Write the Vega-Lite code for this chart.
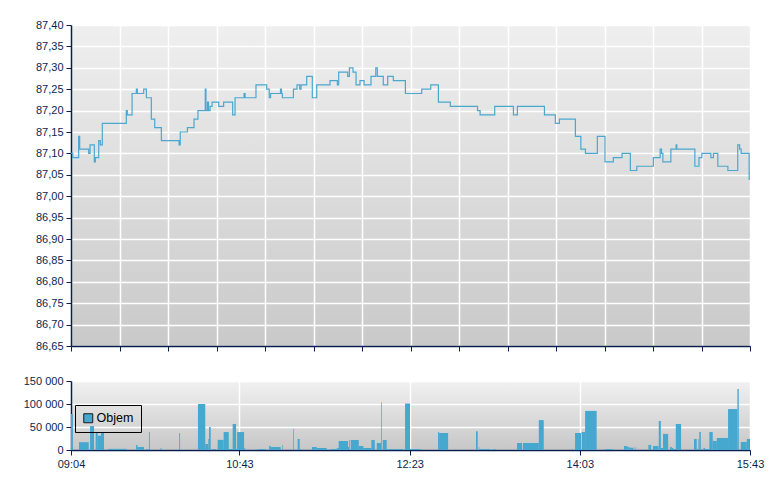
{
  "$schema": "https://vega.github.io/schema/vega-lite/v6.json",
  "background": "#ffffff",
  "padding": {"left": 23, "top": 19, "right": 10, "bottom": 5},
  "spacing": 23,
  "datasets": {
    "price": [
      {"t": 544, "p": 87.10}, {"t": 545.0, "p": 87.09}, {"t": 548.5, "p": 87.14}, {"t": 549.1, "p": 87.11},
      {"t": 554.4, "p": 87.10}, {"t": 555.2, "p": 87.12}, {"t": 557.7, "p": 87.08}, {"t": 558.3, "p": 87.09},
      {"t": 560.3, "p": 87.13}, {"t": 561.2, "p": 87.12}, {"t": 562.4, "p": 87.17}, {"t": 576.5, "p": 87.20},
      {"t": 577.1, "p": 87.19}, {"t": 579.9, "p": 87.24}, {"t": 582.4, "p": 87.25}, {"t": 583.0, "p": 87.24},
      {"t": 586.7, "p": 87.25}, {"t": 588.3, "p": 87.23}, {"t": 591.2, "p": 87.18}, {"t": 593.2, "p": 87.16},
      {"t": 597.1, "p": 87.13}, {"t": 607.5, "p": 87.12}, {"t": 608.2, "p": 87.15}, {"t": 612.4, "p": 87.16},
      {"t": 616.3, "p": 87.18}, {"t": 618.6, "p": 87.20}, {"t": 622.9, "p": 87.25}, {"t": 623.3, "p": 87.20},
      {"t": 624.2, "p": 87.22}, {"t": 624.8, "p": 87.20}, {"t": 625.7, "p": 87.21}, {"t": 626.9, "p": 87.22},
      {"t": 630.8, "p": 87.21}, {"t": 633.7, "p": 87.22}, {"t": 639.0, "p": 87.19}, {"t": 640.4, "p": 87.23},
      {"t": 645.7, "p": 87.24}, {"t": 646.3, "p": 87.23}, {"t": 652.7, "p": 87.26}, {"t": 659.0, "p": 87.25},
      {"t": 660.5, "p": 87.23}, {"t": 661.3, "p": 87.24}, {"t": 667.1, "p": 87.25}, {"t": 667.7, "p": 87.24},
      {"t": 668.2, "p": 87.23}, {"t": 674.7, "p": 87.25}, {"t": 676.8, "p": 87.26}, {"t": 678.4, "p": 87.25},
      {"t": 679.2, "p": 87.26}, {"t": 682.5, "p": 87.28}, {"t": 685.8, "p": 87.23}, {"t": 688.4, "p": 87.26},
      {"t": 696.2, "p": 87.27}, {"t": 700.5, "p": 87.26}, {"t": 701.3, "p": 87.29}, {"t": 706.6, "p": 87.28},
      {"t": 707.6, "p": 87.30}, {"t": 709.7, "p": 87.29}, {"t": 711.5, "p": 87.26}, {"t": 713.8, "p": 87.27},
      {"t": 716.2, "p": 87.26}, {"t": 720.3, "p": 87.28}, {"t": 723.1, "p": 87.30}, {"t": 724.0, "p": 87.28},
      {"t": 727.5, "p": 87.26}, {"t": 730.1, "p": 87.28}, {"t": 733.4, "p": 87.27}, {"t": 740.5, "p": 87.24},
      {"t": 750.1, "p": 87.25}, {"t": 755.4, "p": 87.26}, {"t": 759.9, "p": 87.22}, {"t": 766.9, "p": 87.21},
      {"t": 782.9, "p": 87.20}, {"t": 784.4, "p": 87.19}, {"t": 793.0, "p": 87.21}, {"t": 804.0, "p": 87.19},
      {"t": 806.3, "p": 87.21}, {"t": 822.2, "p": 87.19}, {"t": 828.6, "p": 87.17}, {"t": 831.0, "p": 87.18},
      {"t": 840.4, "p": 87.14}, {"t": 843.6, "p": 87.11}, {"t": 846.3, "p": 87.10}, {"t": 853.3, "p": 87.14},
      {"t": 857.8, "p": 87.08}, {"t": 862.7, "p": 87.09}, {"t": 867.8, "p": 87.10}, {"t": 872.7, "p": 87.06},
      {"t": 876.5, "p": 87.07}, {"t": 886.2, "p": 87.09}, {"t": 890.2, "p": 87.11}, {"t": 891.0, "p": 87.10},
      {"t": 891.8, "p": 87.08}, {"t": 896.5, "p": 87.11}, {"t": 899.6, "p": 87.12}, {"t": 900.0, "p": 87.11},
      {"t": 910.6, "p": 87.07}, {"t": 913.0, "p": 87.09}, {"t": 914.7, "p": 87.10}, {"t": 920.0, "p": 87.09},
      {"t": 921.5, "p": 87.10}, {"t": 924.1, "p": 87.07}, {"t": 930.0, "p": 87.06}, {"t": 935.8, "p": 87.12},
      {"t": 936.9, "p": 87.11}, {"t": 937.8, "p": 87.10}, {"t": 942.5, "p": 87.04}, {"t": 943, "p": 87.04}
    ],
    "volume": [
      {"t0": 544.0, "t1": 545.1, "v": 78000}, {"t0": 548.7, "t1": 554.4, "v": 17000},
      {"t0": 555.2, "t1": 557.5, "v": 52000}, {"t0": 558.5, "t1": 559.7, "v": 39000},
      {"t0": 559.7, "t1": 561.6, "v": 31000}, {"t0": 561.6, "t1": 563.4, "v": 39000},
      {"t0": 565.9, "t1": 576.7, "v": 2500}, {"t0": 582.2, "t1": 583.0, "v": 11000},
      {"t0": 583.0, "t1": 586.9, "v": 6500}, {"t0": 588.1, "t1": 589.7, "v": 2000},
      {"t0": 589.8, "t1": 590.3, "v": 39000}, {"t0": 596.6, "t1": 597.2, "v": 4000},
      {"t0": 607.6, "t1": 608.1, "v": 37000}, {"t0": 618.6, "t1": 622.9, "v": 100000},
      {"t0": 622.9, "t1": 624.7, "v": 13000}, {"t0": 624.7, "t1": 625.1, "v": 24000},
      {"t0": 625.1, "t1": 626.1, "v": 50000}, {"t0": 626.7, "t1": 629.2, "v": 2000},
      {"t0": 630.2, "t1": 633.7, "v": 22000}, {"t0": 633.7, "t1": 636.7, "v": 39000},
      {"t0": 636.7, "t1": 639.0, "v": 2000}, {"t0": 639.0, "t1": 641.0, "v": 56500},
      {"t0": 641.0, "t1": 641.6, "v": 2000}, {"t0": 641.6, "t1": 645.7, "v": 39000},
      {"t0": 645.7, "t1": 646.4, "v": 4000}, {"t0": 652.4, "t1": 653.0, "v": 1500},
      {"t0": 653.9, "t1": 658.4, "v": 2000}, {"t0": 660.4, "t1": 661.4, "v": 8700},
      {"t0": 661.4, "t1": 667.2, "v": 6500}, {"t0": 668.2, "t1": 668.6, "v": 11000},
      {"t0": 674.5, "t1": 674.9, "v": 45600}, {"t0": 677.2, "t1": 678.4, "v": 24000},
      {"t0": 678.4, "t1": 679.2, "v": 2000}, {"t0": 685.6, "t1": 688.4, "v": 6500},
      {"t0": 688.4, "t1": 694.3, "v": 4300}, {"t0": 696.2, "t1": 700.2, "v": 2000},
      {"t0": 700.2, "t1": 701.3, "v": 4300}, {"t0": 701.3, "t1": 706.8, "v": 19600},
      {"t0": 706.8, "t1": 707.4, "v": 6500}, {"t0": 707.4, "t1": 707.8, "v": 21700},
      {"t0": 708.4, "t1": 713.1, "v": 21700}, {"t0": 713.1, "t1": 715.8, "v": 8700},
      {"t0": 715.8, "t1": 720.5, "v": 4300}, {"t0": 720.5, "t1": 722.5, "v": 21700},
      {"t0": 723.7, "t1": 726.2, "v": 15200}, {"t0": 726.2, "t1": 726.6, "v": 104000},
      {"t0": 727.2, "t1": 729.5, "v": 21700}, {"t0": 729.5, "t1": 739.3, "v": 2000},
      {"t0": 740.3, "t1": 743.2, "v": 101000}, {"t0": 743.2, "t1": 749.5, "v": 2000},
      {"t0": 759.7, "t1": 760.3, "v": 39000}, {"t0": 760.3, "t1": 765.6, "v": 37000},
      {"t0": 782.0, "t1": 783.0, "v": 41000}, {"t0": 783.6, "t1": 783.9, "v": 6500},
      {"t0": 783.9, "t1": 790.2, "v": 2000}, {"t0": 791.8, "t1": 793.4, "v": 2000},
      {"t0": 806.1, "t1": 809.1, "v": 15200}, {"t0": 809.6, "t1": 818.9, "v": 15200},
      {"t0": 818.9, "t1": 821.8, "v": 65000}, {"t0": 840.2, "t1": 843.7, "v": 37000},
      {"t0": 844.1, "t1": 846.1, "v": 39000}, {"t0": 846.1, "t1": 852.9, "v": 85000},
      {"t0": 857.8, "t1": 862.4, "v": 2000}, {"t0": 869.0, "t1": 870.9, "v": 8700},
      {"t0": 870.9, "t1": 872.1, "v": 6500}, {"t0": 872.1, "t1": 874.5, "v": 5000},
      {"t0": 875.3, "t1": 875.7, "v": 6500}, {"t0": 883.3, "t1": 884.9, "v": 11000},
      {"t0": 886.0, "t1": 889.2, "v": 8700}, {"t0": 889.4, "t1": 890.6, "v": 63000},
      {"t0": 890.6, "t1": 891.9, "v": 4300}, {"t0": 891.9, "t1": 894.9, "v": 35000},
      {"t0": 896.0, "t1": 897.0, "v": 6500}, {"t0": 897.0, "t1": 898.0, "v": 4300},
      {"t0": 898.0, "t1": 899.4, "v": 2000}, {"t0": 899.4, "t1": 902.5, "v": 56500},
      {"t0": 910.1, "t1": 911.7, "v": 24000}, {"t0": 911.7, "t1": 912.7, "v": 2000},
      {"t0": 912.7, "t1": 913.2, "v": 24000}, {"t0": 913.2, "t1": 914.1, "v": 39000},
      {"t0": 914.1, "t1": 914.8, "v": 2000}, {"t0": 915.6, "t1": 916.6, "v": 4300},
      {"t0": 916.6, "t1": 919.1, "v": 2000}, {"t0": 919.1, "t1": 921.1, "v": 39000},
      {"t0": 921.1, "t1": 923.5, "v": 19600}, {"t0": 923.5, "t1": 930.1, "v": 26100},
      {"t0": 930.1, "t1": 935.6, "v": 89000}, {"t0": 935.6, "t1": 936.4, "v": 132600},
      {"t0": 937.6, "t1": 941.1, "v": 17400}, {"t0": 941.1, "t1": 943.0, "v": 24000}
    ]
  },
  "vconcat": [
    {
      "width": 679,
      "height": 321,
      "view": {
        "stroke": null,
        "fill": {"gradient": "linear", "x1": 0, "y1": 0, "x2": 0, "y2": 1,
          "stops": [{"offset": 0, "color": "#efefef"}, {"offset": 1, "color": "#c9c9c9"}]}
      },
      "layer": [
        {
          "data": {"name": "price"},
          "mark": {"type": "line", "interpolate": "step-after", "color": "#4aa8d0", "strokeWidth": 1.2},
          "encoding": {
            "x": {"field": "t", "type": "quantitative",
              "scale": {"domain": [544, 943], "nice": false, "zero": false},
              "axis": {"labels": false, "grid": true, "tickCount": 20,
                "values": [544, 572.5, 601, 629.5, 658, 686.5, 715, 743.5, 772, 800.5, 829, 857.5, 886, 914.5, 943]}},
            "y": {"field": "p", "type": "quantitative",
              "scale": {"domain": [86.65, 87.40], "nice": false, "zero": false},
              "axis": {"values": [86.65, 86.70, 86.75, 86.80, 86.85, 86.90, 86.95, 87.00, 87.05, 87.10, 87.15, 87.20, 87.25, 87.30, 87.35, 87.40],
                "tickCount": 20, "labelOverlap": false, "labelBound": false,
                "labelExpr": "replace(format(datum.value, '.2f'), '.', ',')"}}
          }
        },
        {
          "mark": {"type": "rule", "color": "#d04848", "strokeWidth": 1.2},
          "encoding": {"y": {"datum": 86.76}}
        },
        {
          "mark": {"type": "text", "align": "right", "baseline": "middle", "font": "Liberation Sans", "fontSize": 11.5, "color": "#0a1f4f"},
          "encoding": {
            "x": {"datum": 939.3},
            "y": {"datum": 86.701},
            "text": {"value": "www.patria.cz"}
          }
        }
      ]
    },
    {
      "width": 679,
      "height": 69,
      "view": {
        "stroke": null,
        "fill": {"gradient": "linear", "x1": 0, "y1": 0, "x2": 0, "y2": 1,
          "stops": [{"offset": 0, "color": "#f1f1f1"}, {"offset": 1, "color": "#c7c7c7"}]}
      },
      "data": {"name": "volume"},
      "mark": {"type": "bar"},
      "encoding": {
        "x": {"field": "t0", "type": "quantitative",
          "scale": {"domain": [544, 943], "nice": false, "zero": false},
          "axis": {"grid": true, "values": [544, 643, 743, 843, 943], "tickCount": 10,
            "labelExpr": "format(floor(datum.value / 60), '02d') + ':' + format(datum.value % 60, '02d')"}},
        "x2": {"field": "t1"},
        "y": {"field": "v", "type": "quantitative",
          "scale": {"domain": [0, 150000], "nice": false},
          "axis": {"values": [0, 50000, 100000, 150000], "tickCount": 10, "labelOverlap": false,
            "labelExpr": "replace(format(datum.value, ',d'), ',', ' ')"}},
        "y2": {"datum": 0},
        "color": {"datum": "Objem", "type": "nominal",
          "scale": {"range": ["#46a7cf"]},
          "legend": {"orient": "none", "legendX": 4, "legendY": 380, "title": null}}
      }
    }
  ],
  "config": {
    "view": {"stroke": null},
    "axis": {
      "title": null,
      "domainColor": "#0a1f4f",
      "domainWidth": 1.5,
      "tickColor": "#0a1f4f",
      "tickSize": 5,
      "labelColor": "#0a1f4f",
      "labelFont": "Liberation Sans",
      "labelFontSize": 11,
      "labelPadding": 3,
      "gridColor": "#ffffff",
      "gridWidth": 1.5,
      "gridOpacity": 1
    },
    "axisX": {"labelFlush": false, "labelOverlap": false},
    "axisY": {"labelOverlap": false},
    "legend": {
      "strokeColor": "#000000",
      "strokeWidth": 1,
      "padding": 7,
      "symbolType": "square",
      "symbolSize": 81,
      "symbolStrokeColor": "#1a1a1a",
      "symbolStrokeWidth": 1,
      "symbolOpacity": 1,
      "labelFont": "Liberation Sans",
      "labelFontSize": 12.5,
      "labelColor": "#000000",
      "labelOffset": 2
    }
  }
}
